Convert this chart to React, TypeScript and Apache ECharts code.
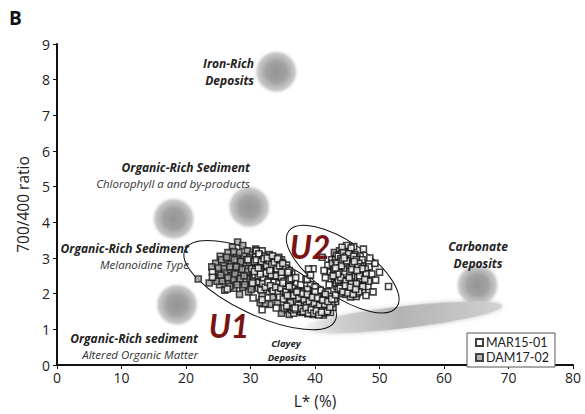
import React, { useEffect, useRef } from "react";
import * as echarts from "echarts";

const xTicks = [0, 10, 20, 30, 40, 50, 60, 70, 80];
const yTicks = [0, 1, 2, 3, 4, 5, 6, 7, 8, 9];

const seriesNames = ["MAR15-01", "DAM17-02"];

// DAM17-02 (grey squares): [L*, 700/400]
const dam1702: number[][] = [
  [28.0, 3.45], [28.8, 3.35], [27.2, 3.3], [26.5, 3.15], [29.5, 3.2], [30.3, 3.1], [25.3, 3.05], [27.8, 3.05],
  [28.9, 2.98], [26.2, 2.92], [24.6, 2.85], [25.8, 2.8], [27.0, 2.85], [28.3, 2.8], [29.8, 2.88], [31.0, 2.95],
  [30.6, 2.75], [29.2, 2.7], [27.6, 2.65], [26.4, 2.62], [25.1, 2.6], [24.3, 2.45], [25.7, 2.45], [27.1, 2.5],
  [28.6, 2.52], [30.0, 2.55], [31.4, 2.6], [32.0, 2.8], [31.8, 2.45], [30.5, 2.38], [29.3, 2.35], [27.9, 2.33],
  [26.6, 2.28], [25.2, 2.25], [26.0, 2.1], [27.4, 2.15], [28.8, 2.18], [30.2, 2.2], [31.2, 2.15], [32.6, 2.3],
  [33.2, 2.55], [29.7, 2.05], [28.3, 1.98], [31.8, 1.95], [24.0, 2.75], [23.6, 2.3], [21.9, 2.41], [26.9, 3.0],
  [29.0, 3.05], [30.8, 3.25], [25.9, 2.7], [28.1, 2.6], [29.9, 2.42], [27.3, 2.4], [32.9, 2.05],
  [33.5, 1.9], [34.2, 1.75], [35.0, 2.0], [34.6, 2.2], [35.8, 1.8], [36.5, 1.65], [33.9, 2.35], [35.3, 1.55],
  [36.9, 1.95], [37.6, 1.7], [38.4, 1.55], [34.8, 1.45], [36.2, 2.25], [33.0, 1.7], [37.3, 2.1], [39.2, 1.75],
  [31.5, 1.75], [35.6, 2.4], [38.0, 1.9], [36.0, 1.42], [40.4, 1.77], [32.3, 1.72], [33.0, 2.24],
  [25.5, 2.95], [26.3, 3.02], [27.5, 2.95], [28.5, 2.9], [29.4, 2.95], [25.0, 2.72], [26.0, 2.58], [26.8, 2.75],
  [27.8, 2.75], [28.7, 2.68], [29.6, 2.62], [30.3, 2.5], [24.8, 2.35], [25.6, 2.36], [26.5, 2.45], [27.6, 2.55],
  [28.4, 2.42], [29.0, 2.5], [26.8, 2.2], [27.9, 2.25], [29.1, 2.25], [25.4, 2.52], [28.2, 3.15], [27.4, 3.18],
  [29.9, 3.0], [30.9, 2.85], [31.5, 2.35], [30.1, 2.12],
];

// MAR15-01 (white squares): [L*, 700/400]
const mar1501: number[][] = [
  // U1 upper block
  [30.8, 3.05], [31.6, 3.0], [32.4, 2.95], [33.2, 2.9], [34.0, 2.85], [31.2, 2.8], [32.0, 2.75], [32.8, 2.7],
  [33.6, 2.72], [34.5, 2.68], [35.3, 2.6], [31.0, 2.6], [31.8, 2.55], [32.6, 2.5], [33.4, 2.48], [34.2, 2.45],
  [35.0, 2.4], [35.8, 2.35], [32.2, 2.35], [33.0, 2.3], [33.8, 2.25], [34.6, 2.2], [35.4, 2.15], [36.2, 2.1],
  [30.5, 2.45], [31.4, 2.4], [30.2, 2.7], [29.6, 2.95], [34.8, 2.95], [35.6, 2.8], [36.4, 2.55], [32.9, 3.1],
  [31.8, 3.2], [33.5, 2.96], [30.9, 3.2],
  [31.1, 2.92], [31.9, 2.87], [32.7, 2.83], [33.5, 2.78], [34.3, 2.76], [30.7, 2.52], [31.5, 2.68], [32.3, 2.63],
  [33.1, 2.58], [33.9, 2.57], [34.7, 2.52], [35.5, 2.47], [31.3, 2.33], [32.1, 2.45], [32.9, 2.41], [33.7, 2.37],
  [34.5, 2.33], [35.3, 2.28], [36.1, 2.26], [32.5, 2.22], [33.3, 2.15], [34.1, 2.12], [34.9, 2.08], [35.7, 2.02],
  [31.6, 2.11], [30.6, 2.9], [31.4, 3.08], [32.2, 3.05], [33.0, 3.0], [33.8, 2.95], [34.6, 2.88], [35.4, 2.72],
  [36.0, 2.65], [32.5, 2.88], [33.3, 2.65], [34.1, 2.62], [31.7, 2.47], [30.3, 2.3], [35.9, 2.5], [34.4, 3.02],
  [30.9, 2.95], [31.3, 3.12], [31.7, 2.9], [32.1, 2.98], [32.5, 2.78], [32.9, 2.92], [33.3, 2.82], [33.7, 2.88],
  [34.1, 2.7], [34.5, 2.78], [30.8, 2.68], [31.2, 2.5], [31.6, 2.62], [32.0, 2.42], [32.4, 2.58], [32.8, 2.38],
  [33.2, 2.52], [33.6, 2.32], [34.0, 2.5], [34.4, 2.3], [34.8, 2.45], [35.2, 2.35], [35.6, 2.2], [36.0, 2.38],
  [31.9, 2.28], [32.3, 2.18], [32.7, 2.32], [33.1, 2.22], [33.5, 2.08], [33.9, 2.18], [34.3, 2.02], [34.7, 2.15],
  [35.1, 1.98], [35.5, 2.12], [31.5, 2.55], [30.6, 2.62], [32.6, 3.0], [33.4, 3.06], [34.2, 2.98], [35.0, 2.85],
  [35.8, 2.6], [36.3, 2.42], [34.8, 2.6], [33.0, 2.65], [31.2, 2.72],
  // U1 left outliers
  [24.1, 2.6], [24.1, 2.46], [26.4, 2.13], [30.4, 1.88], [31.8, 1.83], [31.8, 1.55],
  // U1 lower band
  [35.5, 2.05], [36.3, 1.98], [37.1, 1.92], [37.9, 1.88], [38.7, 1.85], [39.5, 1.8], [40.3, 1.75], [41.1, 1.7],
  [41.9, 1.65], [36.0, 1.8], [36.8, 1.75], [37.6, 1.7], [38.4, 1.65], [39.2, 1.62], [40.0, 1.58], [40.8, 1.55],
  [41.6, 1.5], [42.4, 1.47], [36.6, 2.15], [37.4, 2.1], [38.2, 2.05], [39.0, 2.0], [39.8, 1.95], [40.6, 1.92],
  [41.4, 1.88], [42.2, 1.82], [35.2, 1.6], [36.4, 1.55], [37.2, 1.5], [38.0, 1.47], [38.9, 1.44], [39.7, 1.42],
  [40.5, 1.44], [41.3, 1.4], [42.8, 1.62], [43.2, 1.78], [34.5, 1.9], [35.0, 2.3], [37.8, 2.25], [39.3, 2.25],
  [40.8, 2.1], [42.0, 2.05], [34.0, 1.6], [37.7, 1.5], [37.0, 2.45], [38.6, 2.4], [38.8, 2.4], [39.7, 2.7],
  [39.0, 2.69], [40.0, 2.19], [39.3, 2.52],
  [36.1, 1.92], [36.9, 1.86], [37.7, 1.82], [38.5, 1.78], [39.3, 1.72], [40.1, 1.68], [40.9, 1.63], [41.7, 1.58],
  [36.5, 1.68], [37.3, 1.63], [38.1, 1.58], [38.9, 1.53], [39.7, 1.5], [40.5, 1.48], [41.2, 1.45], [42.0, 1.55],
  [37.0, 2.02], [37.8, 1.97], [38.6, 1.93], [39.4, 1.88], [40.2, 1.84], [41.0, 1.8], [41.8, 1.75], [42.6, 1.72],
  [35.8, 1.72], [36.7, 1.45], [39.0, 1.9], [40.4, 1.62], [38.3, 1.72], [41.5, 1.62], [37.4, 1.8], [39.8, 1.66],
  [42.3, 1.92], [43.0, 1.85], [35.1, 1.85], [36.0, 2.2], [38.8, 2.12], [40.0, 2.05], [41.6, 1.98],
  [36.3, 1.88], [36.7, 1.95], [37.1, 1.78], [37.5, 1.88], [37.9, 1.72], [38.3, 1.82], [38.7, 1.68], [39.1, 1.78],
  [39.5, 1.62], [39.9, 1.72], [40.3, 1.58], [40.7, 1.68], [41.1, 1.52], [41.5, 1.7], [41.9, 1.5], [42.3, 1.62],
  [36.6, 1.62], [37.0, 1.55], [37.4, 1.68], [37.8, 1.58], [38.2, 1.5], [38.6, 1.6], [39.0, 1.45], [39.4, 1.55],
  [39.8, 1.45], [40.2, 1.52], [40.6, 1.4], [41.0, 1.48], [35.7, 1.95], [36.2, 1.75], [38.0, 2.0], [38.8, 1.98],
  [39.6, 1.9], [40.4, 1.88], [41.2, 1.82], [42.0, 1.78], [42.6, 1.85], [37.2, 2.05], [36.9, 1.6], [35.6, 1.65],
  // U2
  [43.0, 3.15], [43.8, 3.2], [44.6, 3.25], [45.4, 3.2], [46.2, 3.1], [42.6, 2.95], [43.4, 3.0], [44.2, 3.05],
  [45.0, 3.0], [45.8, 2.95], [46.6, 2.9], [47.4, 2.85], [42.8, 2.75], [43.6, 2.8], [44.4, 2.82], [45.2, 2.78],
  [46.0, 2.75], [46.8, 2.7], [47.6, 2.65], [42.4, 2.6], [43.2, 2.58], [44.0, 2.62], [44.8, 2.6], [45.6, 2.55],
  [46.4, 2.52], [47.2, 2.5], [48.0, 2.45], [43.0, 2.4], [43.8, 2.42], [44.6, 2.38], [45.4, 2.35], [46.2, 2.32],
  [47.0, 2.3], [47.8, 2.28], [43.4, 2.2], [44.2, 2.18], [45.0, 2.15], [45.8, 2.12], [46.6, 2.1], [47.4, 2.08],
  [44.0, 2.0], [44.8, 1.98], [45.6, 1.95], [46.4, 1.92], [43.2, 1.97], [42.2, 2.25], [41.6, 2.45], [41.1, 3.02],
  [44.9, 3.35], [46.0, 3.32], [47.0, 3.05], [48.4, 2.75], [48.8, 2.55], [49.4, 2.38], [51.4, 2.2], [47.8, 2.69],
  [48.2, 2.2], [49.0, 2.05], [47.9, 1.95], [45.5, 1.91], [43.6, 2.65], [44.4, 2.48], [45.2, 2.9], [46.0, 2.45],
  [46.8, 2.22], [45.0, 2.7], [44.0, 2.88], [42.0, 2.8], [41.4, 2.65], [50.0, 2.6], [49.3, 2.85], [48.5, 3.0],
  [47.5, 3.25], [43.3, 2.3],
  [43.3, 3.08], [44.1, 3.12], [44.9, 3.1], [45.7, 3.05], [46.5, 3.0], [43.1, 2.87], [43.9, 2.92], [44.7, 2.95],
  [45.5, 2.88], [46.3, 2.83], [47.1, 2.78], [43.5, 2.7], [44.3, 2.72], [45.1, 2.68], [45.9, 2.64], [46.7, 2.6],
  [47.5, 2.56], [43.1, 2.5], [43.9, 2.52], [44.7, 2.5], [45.5, 2.46], [46.3, 2.4], [47.1, 2.38], [43.7, 2.32],
  [44.5, 2.28], [45.3, 2.25], [46.1, 2.22], [46.9, 2.18], [44.1, 2.1], [44.9, 2.06], [45.7, 2.03], [46.5, 2.0],
  [43.6, 2.12], [42.9, 2.62], [42.7, 2.85], [44.2, 3.3], [45.6, 3.28], [47.3, 2.95], [47.9, 2.55], [48.3, 2.35],
  [46.0, 2.85], [44.5, 2.62], [45.3, 2.55], [46.2, 2.68], [45.0, 2.42], [44.0, 2.25], [46.6, 2.35], [47.4, 2.2],
  [45.9, 2.33], [44.8, 2.8],
  [43.2, 2.95], [43.6, 3.05], [44.0, 2.98], [44.4, 3.15], [44.8, 3.05], [45.2, 3.12], [45.6, 2.98], [46.0, 3.05],
  [46.4, 2.95], [46.8, 2.85], [43.4, 2.85], [43.8, 2.72], [44.2, 2.92], [44.6, 2.7], [45.0, 2.85], [45.4, 2.72],
  [45.8, 2.82], [46.2, 2.6], [46.6, 2.75], [47.0, 2.62], [43.0, 2.68], [43.4, 2.45], [43.8, 2.6], [44.2, 2.38],
  [44.6, 2.55], [45.0, 2.32], [45.4, 2.62], [45.8, 2.4], [46.2, 2.5], [46.6, 2.45], [47.0, 2.42], [43.6, 2.38],
  [44.0, 2.45], [44.4, 2.2], [44.8, 2.35], [45.2, 2.1], [45.6, 2.28], [46.0, 2.15], [46.4, 2.28], [46.8, 2.05],
  [43.9, 2.15], [44.3, 2.05], [44.7, 2.22], [45.1, 2.02], [45.5, 2.18], [45.9, 1.98], [46.3, 2.12], [43.5, 2.55],
  [44.1, 2.78], [44.9, 2.92], [45.3, 2.45], [46.1, 2.9], [46.9, 2.5], [47.3, 2.7], [47.7, 2.4], [42.8, 2.5],
  [43.2, 2.72], [45.7, 2.68], [44.5, 3.0], [46.5, 2.65],
];

// reference zones (blurred discs): [L*, 700/400]
const zoneNames = ["Iron-Rich", "Chlorophyll", "Melanoidine", "Altered", "Carbonate"];
const zoneCenters: number[][] = [
  [34.0, 8.22],
  [29.8, 4.43],
  [18.1, 4.1],
  [18.6, 1.69],
  [65.2, 2.24],
];

// group outlines: centres [L*, 700/400]
const groupNames = ["U1", "U2", "Clayey"];
const groupCenters: number[][] = [
  [31.5, 2.24],
  [44.3, 2.69],
  [53.3, 1.33],
];

const FONT = "Lato, 'Noto Sans', sans-serif";
const FONT2 = "'Open Sans', 'Noto Sans', sans-serif";

export default function App() {
  const ref = useRef<HTMLDivElement>(null);

  useEffect(() => {
    if (!ref.current) return;
    const chart = echarts.init(ref.current, undefined, { renderer: "svg" });

    const ellipseStyle: Record<string, { rx: number; ry: number; rot: number }> = {
      U1: { rx: 83, ry: 30, rot: -0.44 },
      U2: { rx: 66, ry: 27, rot: -0.61 },
      Clayey: { rx: 102, ry: 11, rot: 0.115 },
    };

    const txt = (
      text: string,
      x: number,
      y: number,
      align: string,
      font: string,
      fill = "#222"
    ) => ({
      type: "text",
      x,
      y,
      z: 50,
      style: { text, font, fill, textAlign: align, textVerticalAlign: "middle" },
    });

    const bi = (s: number) => `italic bold ${s}px ${FONT2}`;
    const it = (s: number) => `italic ${s}px ${FONT2}`;

    chart.setOption({
      animation: false,
      backgroundColor: "#fff",
      grid: { left: 57, right: 12, top: 44, bottom: 45, containLabel: false },
      xAxis: {
        type: "value",
        min: xTicks[0],
        max: xTicks[xTicks.length - 1],
        interval: 10,
        name: "L* (%)",
        nameLocation: "middle",
        nameGap: 28,
        nameTextStyle: { fontSize: 15.5, color: "#222", fontFamily: FONT2 },
        axisLine: { show: true, onZero: false, lineStyle: { color: "#111", width: 2 } },
        axisTick: { show: true, length: 4, lineStyle: { color: "#111", width: 1 } },
        axisLabel: { fontSize: 14, color: "#222", fontFamily: FONT2, margin: 5 },
        splitLine: { show: false },
      },
      yAxis: {
        type: "value",
        min: yTicks[0],
        max: yTicks[yTicks.length - 1],
        interval: 1,
        name: "700/400 ratio",
        nameLocation: "middle",
        nameGap: 24,
        nameRotate: 90,
        nameTextStyle: { fontSize: 15.5, color: "#222", fontFamily: FONT2 },
        axisLine: { show: true, onZero: false, lineStyle: { color: "#111", width: 2 } },
        axisTick: { show: true, length: 4, lineStyle: { color: "#111", width: 1 } },
        axisLabel: { fontSize: 14, color: "#222", fontFamily: FONT2, margin: 7 },
        splitLine: { show: false },
      },
      legend: {
        data: seriesNames,
        orient: "vertical",
        left: 467,
        top: 333,
        itemWidth: 7,
        itemHeight: 7,
        itemGap: 2,
        padding: [3, 6, 3, 8],
        borderColor: "#555",
        borderWidth: 1,
        backgroundColor: "#fff",
        textStyle: { fontSize: 12.5, color: "#222", fontFamily: FONT, padding: [0, 0, 0, -2] },
        z: 60,
      },
      series: [
        {
          name: "zones",
          type: "scatter",
          symbol: "circle",
          symbolSize: 46,
          silent: true,
          z: 1,
          data: zoneCenters.map((c, i) => ({ name: zoneNames[i], value: c })),
          itemStyle: {
            color: {
              type: "radial",
              x: 0.5,
              y: 0.5,
              r: 0.5,
              colorStops: [
                { offset: 0, color: "#7a7a7a" },
                { offset: 0.45, color: "#8a8a8a" },
                { offset: 0.8, color: "rgba(175,175,175,0.85)" },
                { offset: 1, color: "rgba(255,255,255,0)" },
              ],
            },
          },
        },
        {
          name: "groups",
          type: "custom",
          coordinateSystem: "cartesian2d",
          silent: true,
          z: 2,
          data: groupCenters.map((c, i) => ({ name: groupNames[i], value: c })),
          renderItem: (params: any, api: any) => {
            const p = api.coord([api.value(0), api.value(1)]);
            const nm = groupNames[params.dataIndex];
            const e = ellipseStyle[nm];
            if (nm === "Clayey") {
              return {
                type: "ellipse",
                x: p[0],
                y: p[1],
                rotation: e.rot,
                shape: { cx: 0, cy: 0, rx: e.rx, ry: e.ry },
                style: {
                  fill: {
                    type: "linear",
                    x: 0,
                    y: 0,
                    x2: 1,
                    y2: 0,
                    colorStops: [
                      { offset: 0, color: "rgba(220,220,220,0)" },
                      { offset: 0.2, color: "rgba(205,205,205,0.8)" },
                      { offset: 0.5, color: "#b4b4b4" },
                      { offset: 0.8, color: "#c4c4c4" },
                      { offset: 1, color: "#d2d2d2" },
                    ],
                  },
                  shadowBlur: 5,
                  shadowColor: "rgba(190,190,190,0.8)",
                },
              };
            }
            return {
              type: "ellipse",
              x: p[0],
              y: p[1],
              rotation: e.rot,
              z2: 20,
              shape: { cx: 0, cy: 0, rx: e.rx, ry: e.ry },
              style: { fill: "rgba(0,0,0,0)", stroke: "#111", lineWidth: 1 },
            };
          },
        },
        {
          name: seriesNames[1],
          type: "scatter",
          symbol: "rect",
          symbolSize: 6,
          z: 4,
          data: dam1702,
          itemStyle: { color: "#a2a2a2", borderColor: "#1e1e1e", borderWidth: 1.6 },
        },
        {
          name: seriesNames[0],
          type: "scatter",
          symbol: "rect",
          symbolSize: 6,
          z: 5,
          data: mar1501,
          itemStyle: { color: "#ffffff", borderColor: "#111", borderWidth: 1.6 },
        },
      ],
      graphic: [
        txt("B", 9, 18, "left", `bold 19px ${FONT2}`, "#111"),
        txt("Iron-Rich", 254, 63, "right", bi(12)),
        txt("Deposits", 254, 80, "right", bi(12)),
        txt("Organic-Rich Sediment", 250, 167, "right", bi(12)),
        txt("Chlorophyll a and by-products", 250, 183, "right", it(11.5), "#333"),
        txt("Organic-Rich Sediment", 189, 248, "right", bi(12)),
        txt("Melanoidine Type", 189, 264, "right", it(11.5), "#333"),
        txt("Organic-Rich sediment", 198, 338, "right", bi(12)),
        txt("Altered Organic Matter", 198, 354, "right", it(11.5), "#333"),
        txt("Carbonate", 478, 246, "center", bi(12)),
        txt("Deposits", 478, 263, "center", bi(12)),
        txt("Clayey", 286, 343, "center", bi(9.5)),
        txt("Deposits", 287, 357, "center", bi(9.5)),
        txt("U1", 229, 325, "center", `italic bold 32px ${FONT}`, "#7a1414"),
        txt("U2", 310, 246, "center", `italic bold 32px ${FONT}`, "#7a1414"),
      ],
    });

    return () => chart.dispose();
  }, []);

  return (
    <div
      ref={ref}
      style={{ position: "absolute", left: 0, top: 0, width: 585, height: 414 }}
    />
  );
}
